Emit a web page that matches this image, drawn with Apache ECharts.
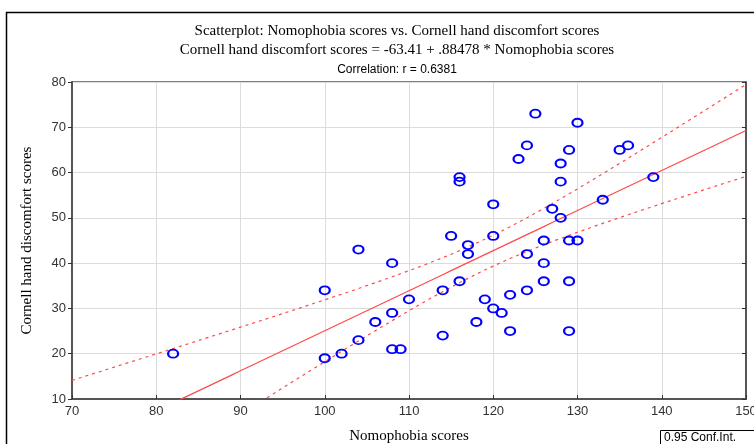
<!DOCTYPE html>
<html>
<head>
<meta charset="utf-8">
<script src="https://cdn.jsdelivr.net/npm/echarts@6/dist/echarts.min.js"></script>
<style>html,body{margin:0;padding:0;background:#fff;}#c{width:754px;height:444px;}</style>
</head>
<body>
<div id="c"></div>
<script>
// Nomophobia scores (x) and Cornell hand discomfort scores (y)
const nomophobia = [82,100,100,102,104,104,106,108,108,108,109,110,114,114,115,116,116,116,117,117,118,119,120,120,120,121,122,122,123,124,124,124,125,126,126,126,127,128,128,128,129,129,129,129,130,130,133,135,136,139];
const cornell    = [20,34,19,20,43,23,27,40,29,21,21,32,34,24,46,59,58,36,44,42,27,32,53,46,30,29,33,25,63,66,42,34,73,45,40,36,52,62,58,50,65,45,36,25,71,45,54,65,66,59];
const xTicks = [70,80,90,100,110,120,130,140,150];
const yTicks = [10,20,30,40,50,60,70,80];
const intercept = -63.41, slope = 0.88478;

const pts = nomophobia.map((x,i)=>[x,cornell[i]]);
// 95% confidence band of the regression line, computed from the data
const n = pts.length;
const xbar = nomophobia.reduce((a,b)=>a+b,0)/n;
const sxx = nomophobia.reduce((a,x)=>a+(x-xbar)*(x-xbar),0);
const sse = pts.reduce((a,p)=>{const r=p[1]-(intercept+slope*p[0]);return a+r*r;},0);
const s = Math.sqrt(sse/(n-2));
const t = 2.0106;
const fit = [], up = [], lo = [];
for (let x=xTicks[0]; x<=xTicks[xTicks.length-1]; x+=1) {
  const yh = intercept + slope*x;
  const h = t*s*Math.sqrt(1/n + (x-xbar)*(x-xbar)/sxx);
  fit.push([x,yh]); up.push([x,yh+h]); lo.push([x,yh-h]);
}

const chart = echarts.init(document.getElementById('c'), null, {renderer:'canvas'});
const serif = '"Liberation Serif", "DejaVu Serif", serif';
const sans = '"Liberation Sans", Arial, sans-serif';
chart.setOption({
  animation:false,
  backgroundColor:'#fff',
  title:[
    {text:'Scatterplot: Nomophobia scores vs. Cornell hand discomfort scores', left:392, top:19, textAlign:'center',
     textStyle:{fontFamily:serif, fontSize:15, fontWeight:'normal', color:'#000'}},
    {text:'Cornell hand discomfort scores = -63.41 + .88478 * Nomophobia scores', left:392, top:38, textAlign:'center',
     textStyle:{fontFamily:serif, fontSize:15, fontWeight:'normal', color:'#000'}},
    {text:'Correlation: r = 0.6381', left:392, top:59, textAlign:'center',
     textStyle:{fontFamily:sans, fontSize:12, fontWeight:'normal', color:'#000'}}
  ],
  grid:{left:72, right:8, top:82, bottom:45, outerBoundsMode:'none', containLabel:false,
        show:true, borderColor:'#000', borderWidth:1},
  xAxis:{type:'value', min:xTicks[0], max:xTicks[xTicks.length-1], interval:10,
    name:'Nomophobia scores', nameLocation:'middle', nameGap:30,
    nameTextStyle:{fontFamily:serif, fontSize:15, color:'#000'},
    axisLine:{show:true, onZero:false, lineStyle:{color:'#555', width:2}},
    axisTick:{show:true, inside:true, length:4, lineStyle:{color:'#333'}},
    axisLabel:{fontFamily:sans, fontSize:13, color:'#333', margin:6},
    splitLine:{show:true, lineStyle:{color:'#dcdcdc', width:1}}},
  yAxis:[{type:'value', min:yTicks[0], max:yTicks[yTicks.length-1], interval:10,
    name:'Cornell hand discomfort scores', nameLocation:'middle', nameGap:37,
    nameTextStyle:{fontFamily:serif, fontSize:15, color:'#000'},
    axisLine:{show:true, onZero:false, lineStyle:{color:'#555', width:2}},
    axisTick:{show:true, inside:false, length:4, lineStyle:{color:'#333'}},
    axisLabel:{fontFamily:sans, fontSize:13, color:'#333', margin:6},
    splitLine:{show:true, lineStyle:{color:'#dcdcdc', width:1}}},
   {type:'value', min:yTicks[0], max:yTicks[yTicks.length-1], interval:10, position:'right',
    axisLine:{show:true, lineStyle:{color:'#555', width:2}},
    axisTick:{show:true, inside:true, length:4, lineStyle:{color:'#333'}},
    axisLabel:{show:false}, splitLine:{show:false}}],
  series:[
    {type:'line', data:fit, showSymbol:false, clip:true, lineStyle:{color:'#ff4a4a', width:1.2}, z:3},
    {type:'line', data:up, showSymbol:false, clip:true, lineStyle:{color:'#ff4a4a', width:1.2, type:[3,4]}, z:3},
    {type:'line', data:lo, showSymbol:false, clip:true, lineStyle:{color:'#ff4a4a', width:1.2, type:[3,4]}, z:3},
    {type:'scatter', data:pts, symbol:'circle', symbolSize:[10,8],
     itemStyle:{color:'rgba(0,0,0,0)', borderColor:'#0000ff', borderWidth:2, opacity:1}, z:5}
  ],
  graphic:[
    {type:'rect', shape:{x:6.5, y:12.5, width:900, height:600}, style:{fill:null, stroke:'#000', lineWidth:1.5}, silent:true},
    {type:'group', left:660, top:430, children:[
      {type:'rect', shape:{x:0.5, y:0.5, width:200, height:30}, style:{fill:'#fff', stroke:'#000', lineWidth:1}},
      {type:'text', x:4, y:2, style:{text:'0.95 Conf.Int.', font:'12px "Liberation Sans", Arial, sans-serif', fill:'#000'}}
    ]}
  ]
});
</script>
</body>
</html>
